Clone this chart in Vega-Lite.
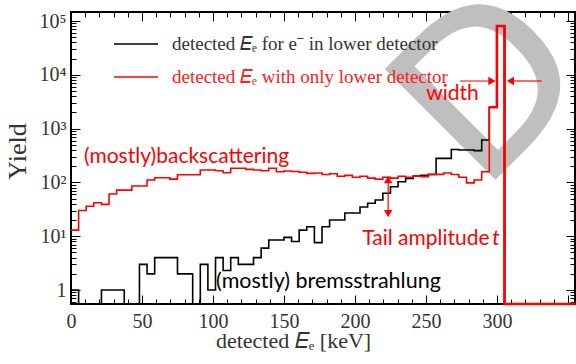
{
  "$schema": "https://vega.github.io/schema/vega-lite/v6.json",
  "width": 504,
  "height": 292,
  "autosize": "none",
  "padding": {"left": 71, "top": 12, "right": 1, "bottom": 60},
  "config": {
    "view": {"stroke": "#000000", "strokeWidth": 2},
    "axis": {"grid": false, "domain": false, "tickColor": "#000000", "tickWidth": 1, "labelFont": "Liberation Serif", "labelFontSize": 20, "labelColor": "#333333", "titleFont": "Liberation Serif", "titleFontWeight": "normal", "titleColor": "#333333"}
  },
  "datasets": {
    "hist": [
      {"s": "black", "x": 0, "y": 1}, {"s": "black", "x": 5.36, "y": 0.55}, {"s": "black", "x": 10.71, "y": 0.55}, {"s": "black", "x": 16.07, "y": 0.55},
      {"s": "black", "x": 21.43, "y": 1}, {"s": "black", "x": 26.79, "y": 1}, {"s": "black", "x": 32.14, "y": 1}, {"s": "black", "x": 37.5, "y": 0.55},
      {"s": "black", "x": 42.86, "y": 0.55}, {"s": "black", "x": 48.21, "y": 3}, {"s": "black", "x": 53.57, "y": 2}, {"s": "black", "x": 58.93, "y": 4},
      {"s": "black", "x": 64.29, "y": 4}, {"s": "black", "x": 69.64, "y": 4}, {"s": "black", "x": 75, "y": 2}, {"s": "black", "x": 80.36, "y": 2},
      {"s": "black", "x": 85.71, "y": 0.55}, {"s": "black", "x": 91.07, "y": 3}, {"s": "black", "x": 96.43, "y": 1}, {"s": "black", "x": 101.79, "y": 4},
      {"s": "black", "x": 107.14, "y": 2.3}, {"s": "black", "x": 112.5, "y": 4}, {"s": "black", "x": 117.86, "y": 3}, {"s": "black", "x": 123.21, "y": 3},
      {"s": "black", "x": 128.57, "y": 4}, {"s": "black", "x": 133.93, "y": 6}, {"s": "black", "x": 139.29, "y": 8.5}, {"s": "black", "x": 144.64, "y": 8.5},
      {"s": "black", "x": 150, "y": 9.5}, {"s": "black", "x": 155.36, "y": 8}, {"s": "black", "x": 160.71, "y": 13}, {"s": "black", "x": 166.07, "y": 15},
      {"s": "black", "x": 171.43, "y": 7.6}, {"s": "black", "x": 176.79, "y": 15}, {"s": "black", "x": 182.14, "y": 20}, {"s": "black", "x": 187.5, "y": 20},
      {"s": "black", "x": 192.86, "y": 27}, {"s": "black", "x": 198.21, "y": 27}, {"s": "black", "x": 203.57, "y": 35}, {"s": "black", "x": 208.93, "y": 41},
      {"s": "black", "x": 214.29, "y": 47}, {"s": "black", "x": 219.64, "y": 63}, {"s": "black", "x": 225, "y": 83}, {"s": "black", "x": 230.36, "y": 103},
      {"s": "black", "x": 235.71, "y": 119}, {"s": "black", "x": 241.07, "y": 131}, {"s": "black", "x": 246.43, "y": 135}, {"s": "black", "x": 251.79, "y": 140},
      {"s": "black", "x": 257.14, "y": 280}, {"s": "black", "x": 262.5, "y": 280}, {"s": "black", "x": 267.86, "y": 410}, {"s": "black", "x": 273.21, "y": 400},
      {"s": "black", "x": 278.57, "y": 400}, {"s": "black", "x": 283.93, "y": 390}, {"s": "black", "x": 289.29, "y": 614}, {"s": "black", "x": 294.64, "y": 2490},
      {"s": "black", "x": 300, "y": 80700}, {"s": "black", "x": 305.36, "y": 0.55}, {"s": "black", "x": 355, "y": 0.55},
      {"s": "red", "x": 0, "y": 13}, {"s": "red", "x": 5.36, "y": 30}, {"s": "red", "x": 10.71, "y": 36}, {"s": "red", "x": 16.07, "y": 42},
      {"s": "red", "x": 21.43, "y": 39}, {"s": "red", "x": 26.79, "y": 61}, {"s": "red", "x": 32.14, "y": 72}, {"s": "red", "x": 37.5, "y": 72},
      {"s": "red", "x": 42.86, "y": 86}, {"s": "red", "x": 48.21, "y": 86}, {"s": "red", "x": 53.57, "y": 111}, {"s": "red", "x": 58.93, "y": 122},
      {"s": "red", "x": 64.29, "y": 122}, {"s": "red", "x": 69.64, "y": 115}, {"s": "red", "x": 75, "y": 139}, {"s": "red", "x": 80.36, "y": 139},
      {"s": "red", "x": 85.71, "y": 139}, {"s": "red", "x": 91.07, "y": 170}, {"s": "red", "x": 96.43, "y": 170}, {"s": "red", "x": 101.79, "y": 165},
      {"s": "red", "x": 107.14, "y": 151}, {"s": "red", "x": 112.5, "y": 183}, {"s": "red", "x": 117.86, "y": 183}, {"s": "red", "x": 123.21, "y": 175},
      {"s": "red", "x": 128.57, "y": 170}, {"s": "red", "x": 133.93, "y": 165}, {"s": "red", "x": 139.29, "y": 183}, {"s": "red", "x": 144.64, "y": 158},
      {"s": "red", "x": 150, "y": 163}, {"s": "red", "x": 155.36, "y": 160}, {"s": "red", "x": 160.71, "y": 155}, {"s": "red", "x": 166.07, "y": 147},
      {"s": "red", "x": 171.43, "y": 150}, {"s": "red", "x": 176.79, "y": 140}, {"s": "red", "x": 182.14, "y": 145}, {"s": "red", "x": 187.5, "y": 130},
      {"s": "red", "x": 192.86, "y": 135}, {"s": "red", "x": 198.21, "y": 125}, {"s": "red", "x": 203.57, "y": 130}, {"s": "red", "x": 208.93, "y": 120},
      {"s": "red", "x": 214.29, "y": 115}, {"s": "red", "x": 219.64, "y": 125}, {"s": "red", "x": 225, "y": 120}, {"s": "red", "x": 230.36, "y": 130},
      {"s": "red", "x": 235.71, "y": 125}, {"s": "red", "x": 241.07, "y": 130}, {"s": "red", "x": 246.43, "y": 128}, {"s": "red", "x": 251.79, "y": 141},
      {"s": "red", "x": 257.14, "y": 141}, {"s": "red", "x": 262.5, "y": 150}, {"s": "red", "x": 267.86, "y": 140}, {"s": "red", "x": 273.21, "y": 125},
      {"s": "red", "x": 278.57, "y": 98}, {"s": "red", "x": 283.93, "y": 111}, {"s": "red", "x": 289.29, "y": 158}, {"s": "red", "x": 294.64, "y": 2490},
      {"s": "red", "x": 300, "y": 80700}, {"s": "red", "x": 305.36, "y": 0.55}, {"s": "red", "x": 355, "y": 0.55}
    ],
    "arrows": [
      {"x": 273.9, "x2": 296, "y": 7670, "y2": 7670},
      {"x": 310, "x2": 331.5, "y": 7670, "y2": 7670},
      {"x": 223.4, "x2": 223.4, "y": 113, "y2": 26.4}
    ],
    "heads": [
      {"x": 296.5, "y": 7670, "dir": "right"},
      {"x": 309.5, "y": 7670, "dir": "left"},
      {"x": 223.4, "y": 113, "dir": "up"},
      {"x": 223.4, "y": 26.4, "dir": "down"}
    ],
    "redtext": [
      {"x": 9.16, "y": 226, "t": "(mostly)backscattering"},
      {"x": 250.2, "y": 3400, "t": "width"},
      {"x": 205.1, "y": 6.86, "t": "Tail amplitude"}
    ],
    "blacktext": [
      {"x": 102.2, "y": 1.1, "t": "(mostly) bremsstrahlung"}
    ],
    "italic": [
      {"x": 296.7, "y": 6.86, "t": "t"}
    ],
    "mark": [
      {"x": 297.4, "y": 5215, "t": "D"}
    ]
  },
  "resolve": {"axis": {"x": "independent", "y": "independent"}},
  "layer": [
    {
      "data": {"name": "mark"},
      "mark": {"type": "text", "font": "DejaVu Sans", "fontSize": 212, "angle": 315, "align": "center", "baseline": "middle", "color": "#bfbfbf", "stroke": "#bfbfbf", "strokeWidth": 2},
      "encoding": {
        "x": {"field": "x", "type": "quantitative", "scale": {"type": "linear", "domain": [0, 355], "nice": false, "zero": false}, "axis": null},
        "y": {"field": "y", "type": "quantitative", "scale": {"type": "log", "domain": [0.55, 147000], "nice": false}, "axis": null},
        "text": {"field": "t"}
      }
    },
    {
      "data": {"name": "hist"},
      "mark": {"type": "line", "interpolate": "step-after", "strokeWidth": 1.6, "strokeJoin": "miter"},
      "encoding": {
        "x": {"field": "x", "type": "quantitative", "scale": {"type": "linear", "domain": [0, 355], "nice": false, "zero": false},
          "axis": {"orient": "bottom", "values": [0, 50, 100, 150, 200, 250, 300, 350], "labelExpr": "datum.value <= 300 ? datum.label : ''", "tickSize": -9, "labelPadding": 16, "labelFlush": false, "labelOverlap": false,
            "title": "detected 𝐸ₑ [keV]", "titleFontSize": 22, "titleX": 222, "titleY": 43, "titleBaseline": "alphabetic"}},
        "y": {"field": "y", "type": "quantitative", "scale": {"type": "log", "domain": [0.55, 147000], "nice": false},
          "axis": {"orient": "left", "values": [1, 10, 100, 1000, 10000, 100000], "labelExpr": "datum.value == 1 ? '1' : datum.value == 10 ? '10¹' : datum.value == 100 ? '10²' : datum.value == 1000 ? '10³' : datum.value == 10000 ? '10⁴' : '10⁵'", "tickSize": -9, "labelPadding": 14, "labelOverlap": false,
            "title": "Yield", "titleFontSize": 26, "titleX": -46, "titleY": 139, "titleBaseline": "alphabetic", "titleAngle": 270}},
        "color": {"field": "s", "type": "nominal", "scale": {"domain": ["black", "red"], "range": ["#000000", "#ff0000"]},
          "legend": {"orient": "none", "legendX": 42, "legendY": 9, "title": null, "symbolType": "stroke", "symbolSize": 1936, "symbolStrokeWidth": 1.5,
            "labelFont": "Liberation Serif", "labelFontSize": 19, "labelOffset": 13, "rowPadding": -10, "padding": 0, "labelLimit": 0,
            "labelExpr": "datum.value == 'black' ? 'detected 𝐸ₑ for e⁻ in lower detector' : 'detected 𝐸ₑ with only lower detector'",
            "encode": {"labels": {"update": {"fill": [{"test": "datum.value == 'red'", "value": "#ff2020"}, {"value": "#333333"}]}}}}}
      }
    },
    {
      "data": {"name": "hist"},
      "transform": [{"filter": "datum.s == 'red' && datum.x >= 294"}],
      "mark": {"type": "line", "interpolate": "step-after", "strokeWidth": 2.6, "strokeJoin": "miter", "color": "#ff0000"},
      "encoding": {
        "x": {"field": "x", "type": "quantitative", "scale": {"type": "linear", "domain": [0, 355], "nice": false, "zero": false},
          "axis": {"orient": "bottom", "values": [10, 20, 30, 40, 60, 70, 80, 90, 110, 120, 130, 140, 160, 170, 180, 190, 210, 220, 230, 240, 260, 270, 280, 290, 310, 320, 330, 340], "labels": false, "tickSize": -5, "title": null}},
        "y": {"field": "y", "type": "quantitative", "scale": {"type": "log", "domain": [0.55, 147000], "nice": false},
          "axis": {"orient": "left", "values": [0.6, 0.7, 0.8, 0.9, 2, 3, 4, 5, 6, 7, 8, 9, 20, 30, 40, 50, 60, 70, 80, 90, 200, 300, 400, 500, 600, 700, 800, 900, 2000, 3000, 4000, 5000, 6000, 7000, 8000, 9000, 20000, 30000, 40000, 50000, 60000, 70000, 80000, 90000], "labels": false, "tickSize": -5, "title": null}}
      }
    },
    {
      "data": {"name": "arrows"},
      "mark": {"type": "rule", "color": "#ff0000", "strokeWidth": 1.2},
      "encoding": {
        "x": {"field": "x", "type": "quantitative", "scale": {"type": "linear", "domain": [0, 355], "nice": false, "zero": false},
          "axis": {"orient": "top", "values": [0, 50, 100, 150, 200, 250, 300, 350], "labels": false, "tickSize": -9, "title": null}},
        "x2": {"field": "x2"},
        "y": {"field": "y", "type": "quantitative", "scale": {"type": "log", "domain": [0.55, 147000], "nice": false},
          "axis": {"orient": "right", "values": [1, 10, 100, 1000, 10000, 100000], "labels": false, "tickSize": -9, "title": null}},
        "y2": {"field": "y2"}
      }
    },
    {
      "data": {"name": "heads"},
      "mark": {"type": "point", "filled": true, "color": "#ff0000", "size": 70, "opacity": 1},
      "encoding": {
        "x": {"field": "x", "type": "quantitative", "scale": {"type": "linear", "domain": [0, 355], "nice": false, "zero": false},
          "axis": {"orient": "top", "values": [10, 20, 30, 40, 60, 70, 80, 90, 110, 120, 130, 140, 160, 170, 180, 190, 210, 220, 230, 240, 260, 270, 280, 290, 310, 320, 330, 340], "labels": false, "tickSize": -5, "title": null}},
        "y": {"field": "y", "type": "quantitative", "scale": {"type": "log", "domain": [0.55, 147000], "nice": false},
          "axis": {"orient": "right", "values": [0.6, 0.7, 0.8, 0.9, 2, 3, 4, 5, 6, 7, 8, 9, 20, 30, 40, 50, 60, 70, 80, 90, 200, 300, 400, 500, 600, 700, 800, 900, 2000, 3000, 4000, 5000, 6000, 7000, 8000, 9000, 20000, 30000, 40000, 50000, 60000, 70000, 80000, 90000], "labels": false, "tickSize": -5, "title": null}},
        "shape": {"field": "dir", "type": "nominal", "scale": {"domain": ["right", "left", "up", "down"], "range": ["triangle-right", "triangle-left", "triangle-up", "triangle-down"]}, "legend": null}
      }
    },
    {
      "data": {"name": "redtext"},
      "mark": {"type": "text", "font": "Lato", "fontSize": 21, "align": "left", "baseline": "alphabetic", "color": "#ff0000"},
      "encoding": {
        "x": {"field": "x", "type": "quantitative", "scale": {"type": "linear", "domain": [0, 355], "nice": false, "zero": false}, "axis": null},
        "y": {"field": "y", "type": "quantitative", "scale": {"type": "log", "domain": [0.55, 147000], "nice": false}, "axis": null},
        "text": {"field": "t"}
      }
    },
    {
      "data": {"name": "blacktext"},
      "mark": {"type": "text", "font": "Lato", "fontSize": 21.5, "align": "left", "baseline": "alphabetic", "color": "#000000"},
      "encoding": {
        "x": {"field": "x", "type": "quantitative", "scale": {"type": "linear", "domain": [0, 355], "nice": false, "zero": false}, "axis": null},
        "y": {"field": "y", "type": "quantitative", "scale": {"type": "log", "domain": [0.55, 147000], "nice": false}, "axis": null},
        "text": {"field": "t"}
      }
    },
    {
      "data": {"name": "italic"},
      "mark": {"type": "text", "font": "Lato", "fontSize": 21, "fontStyle": "italic", "align": "left", "baseline": "alphabetic", "color": "#ff0000"},
      "encoding": {
        "x": {"field": "x", "type": "quantitative", "scale": {"type": "linear", "domain": [0, 355], "nice": false, "zero": false}, "axis": null},
        "y": {"field": "y", "type": "quantitative", "scale": {"type": "log", "domain": [0.55, 147000], "nice": false}, "axis": null},
        "text": {"field": "t"}
      }
    }
  ]
}
